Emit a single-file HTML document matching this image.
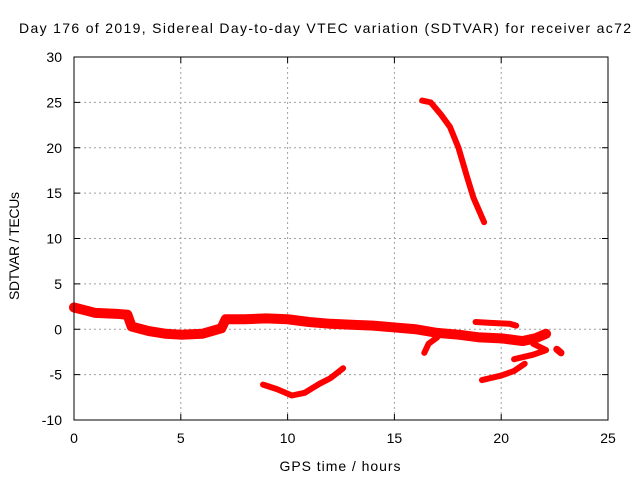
<!DOCTYPE html>
<html><head><meta charset="utf-8"><style>
body{margin:0;background:#fff}
svg{display:block;font-family:"Liberation Sans",sans-serif}
</style></head><body>
<svg id="chart" width="640" height="480">
<text x="325" y="33" font-size="14" text-anchor="middle" textLength="612" lengthAdjust="spacing">Day 176 of 2019, Sidereal Day-to-day VTEC variation (SDTVAR) for receiver ac72</text>
<text x="340" y="471" font-size="14" text-anchor="middle" textLength="121" lengthAdjust="spacing">GPS time / hours</text>
<text transform="translate(19,246) rotate(-90)" font-size="14" text-anchor="middle" textLength="108" lengthAdjust="spacing">SDTVAR / TECUs</text>
<g id="grid"></g><g id="marks"></g><g id="axes"></g>
</svg>
<script>
const xTicks=[0,5,10,15,20,25];
const yTicks=[-10,-5,0,5,10,15,20,25,30];
const mainBand=[[0,2.4],[0.5,2.1],[1,1.8],[2,1.7],[2.5,1.6],[2.7,0.3],[3.5,-0.2],[4.3,-0.5],[5,-0.6],[6,-0.5],[6.9,0.1],[7.1,1.1],[8,1.1],[9,1.2],[10,1.1],[11,0.8],[12,0.6],[13,0.5],[14,0.4],[15,0.2],[16,0],[17,-0.4],[18,-0.6],[19,-0.9],[20,-1],[21,-1.3],[21.6,-1.0],[22.1,-0.5]];
const loopBranch=[[21.5,-1.6],[22.1,-2.3],[21.5,-2.8],[20.6,-3.3]];
const lowerBranch=[[19.1,-5.6],[20,-5.1],[20.6,-4.6],[21.1,-3.8]];
const island=[[22.6,-2.2],[22.8,-2.6]];
const shortBranch=[[16.4,-2.6],[16.6,-1.6],[17,-0.9]];
const upperSeg=[[18.8,0.8],[19.5,0.7],[20.4,0.6],[20.7,0.4]];
const dipSeg=[[8.85,-6.1],[9.5,-6.6],[10.2,-7.3],[10.8,-7],[11.5,-6],[12,-5.4],[12.6,-4.3]];
const topArc=[[16.3,25.2],[16.7,25],[17.2,23.6],[17.6,22.3],[18,20],[18.4,16.8],[18.7,14.5],[19.2,11.8]];
const X=v=>74+v*(608-74)/25;
const Y=v=>420-(v+10)*(420-57)/40;
const NS="http://www.w3.org/2000/svg";
const grid=document.getElementById('grid'),axes=document.getElementById('axes'),marks=document.getElementById('marks');
function mk(tag,at,parent){const e=document.createElementNS(NS,tag);for(const k in at)e.setAttribute(k,at[k]);parent.appendChild(e);return e;}
xTicks.forEach(t=>{
 const g=mk('line',{x1:X(t),x2:X(t),y1:57,y2:420,stroke:'#a0a0a0','stroke-dasharray':'2,3'},grid);
 
 
 const tl=mk('text',{x:X(t),y:443,'font-size':14,'text-anchor':'middle'},axes);tl.textContent=t;
 
 
 mk('line',{x1:X(t),x2:X(t),y1:420,y2:414,stroke:'#000'},axes);
 mk('line',{x1:X(t),x2:X(t),y1:57,y2:63,stroke:'#000'},axes);
});
yTicks.forEach(t=>{
 const g=mk('line',{x1:74,x2:608,y1:Y(t),y2:Y(t),stroke:'#a0a0a0','stroke-dasharray':'2,3'},grid);
 
 
 const tl=mk('text',{x:62,y:Y(t)+5,'font-size':14,'text-anchor':'end'},axes);tl.textContent=t;
 
 
 mk('line',{x1:74,x2:80,y1:Y(t),y2:Y(t),stroke:'#000'},axes);
 mk('line',{x1:602,x2:608,y1:Y(t),y2:Y(t),stroke:'#000'},axes);
});
const fr=mk('rect',{x:74,y:57,width:534,height:363,fill:'none',stroke:'#000'},axes);


const segs=[[mainBand,10,'main-band'],[loopBranch,6,'loop-branch'],[lowerBranch,6,'lower-branch'],[island,7,'island-segment'],[shortBranch,6,'short-branch'],[upperSeg,6,'upper-segment'],[dipSeg,6,'dip-segment'],[topArc,6,'top-arc']];
segs.forEach(([d,w,n])=>{
 const p=mk('polyline',{points:d.map(q=>X(q[0])+','+Y(q[1])).join(' '),fill:'none',stroke:'#ff0000','stroke-width':w,'stroke-linejoin':'round','stroke-linecap':'round'},marks);
 
 
});
</script>
</body></html>
